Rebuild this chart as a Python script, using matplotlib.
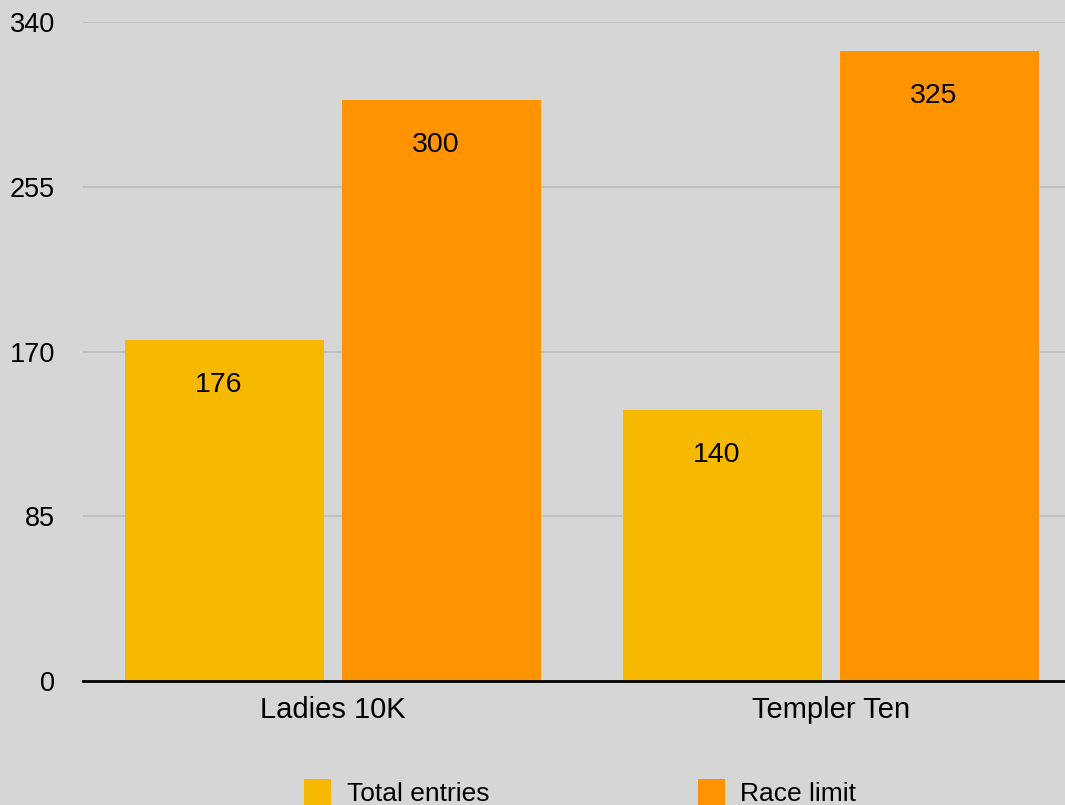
import numpy as np
import matplotlib.pyplot as plt

plt.rcParams['font.family'] = ['Liberation Sans', 'DejaVu Sans']

races = ['Ladies 10K', 'Templer Ten']
total_entries = [176, 140]
race_limit = [300, 325]
y_ticks = [0, 85, 170, 255, 340]

bg = '#d6d6d6'
c_total = '#f7b900'
c_limit = '#ff9400'

fig = plt.figure(figsize=(10.65, 8.05), dpi=100, facecolor=bg)
ax = fig.add_axes([83/1065, 1 - 681/805, 1 - 83/1065, (681 - 22)/805])
ax.set_facecolor(bg)

x = np.arange(len(races))
w = 0.4
off = 0.218
b1 = ax.bar(x - off, total_entries, w, color=c_total, label='Total entries', zorder=2)
b2 = ax.bar(x + off, race_limit, w, color=c_limit, label='Race limit', zorder=2)

for bars, vals in [(b1, total_entries), (b2, race_limit)]:
    for r, v in zip(bars, vals):
        ax.annotate(str(v), (r.get_x() + r.get_width() / 2, v), xytext=(-4, -32.5),
                    textcoords='offset points', ha='center', va='center',
                    fontsize=20.5, color='black', zorder=3)

ax.set_ylim(0, 340)
ax.set_xlim(-0.5025, 1.471)
ax.set_yticks(y_ticks)
ax.set_yticklabels([str(t) for t in y_ticks])
ax.set_xticks(x)
ax.set_xticklabels(races)
ax.tick_params(axis='both', length=0, colors='black')
ax.tick_params(axis='y', pad=20, labelsize=19.5)
ax.tick_params(axis='x', pad=11, labelsize=21)
ax.yaxis.grid(True, color='#bcbcbc', linewidth=1.2, zorder=0)
ax.set_axisbelow(True)
for s in ['top', 'right', 'left']:
    ax.spines[s].set_visible(False)
ax.spines['bottom'].set_color('black')
ax.spines['bottom'].set_linewidth(2)
ax.spines['bottom'].set_zorder(4)
ax.spines['bottom'].set_clip_on(False)
gl = ax.get_ygridlines()
gl[0].set_visible(False)

fig.legend(loc='upper left', bbox_to_anchor=(304/1065, 1 - 779/805), ncol=2,
           frameon=False, fontsize=19, handlelength=1.02, handleheight=1.2,
           handletextpad=0.6, columnspacing=7.9, borderpad=0, borderaxespad=0)

fig.savefig('out.png', dpi=100, facecolor=bg)
